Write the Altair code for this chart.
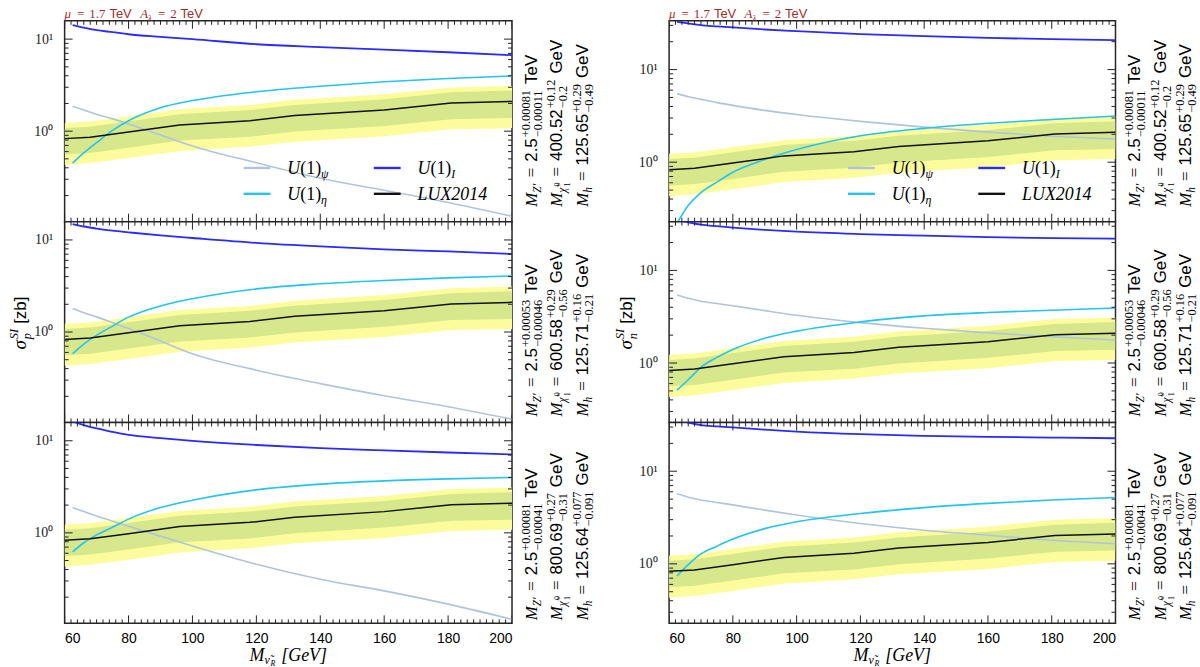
import altair as alt
import pandas as pd

# ------------------------------------------------------------------ data
curve_x = [62.5, 66, 70, 75, 80, 90, 100, 120, 140, 160, 180, 200]

# sigma_p (left column), one set per M_chi panel
p_psi_400 = [1.86, 1.70, 1.53, 1.36, 1.20, 0.91, 0.69, 0.454, 0.308, 0.228, 0.168, 0.119]
p_eta_400 = [0.45, 0.58, 0.75, 1.02, 1.30, 1.80, 2.15, 2.68, 3.08, 3.44, 3.73, 3.98]
p_I_400 = [14.2, 13.3, 12.5, 11.9, 11.3, 10.6, 10.0, 8.8, 8.2, 7.7, 7.2, 6.7]

p_psi_600 = [1.80, 1.62, 1.46, 1.26, 1.09, 0.80, 0.58, 0.385, 0.275, 0.203, 0.154, 0.113]
p_eta_600 = [0.58, 0.74, 0.92, 1.16, 1.45, 1.92, 2.30, 2.94, 3.34, 3.63, 3.87, 4.07]
p_I_600 = [14.9, 14.0, 13.3, 12.6, 12.1, 11.2, 10.5, 9.3, 8.5, 7.9, 7.5, 7.05]

p_psi_800 = [1.88, 1.70, 1.52, 1.34, 1.18, 0.92, 0.72, 0.456, 0.313, 0.234, 0.168, 0.115]
p_eta_800 = [0.62, 0.78, 0.95, 1.15, 1.41, 1.88, 2.26, 2.93, 3.38, 3.67, 3.86, 3.99]
p_I_800 = [16.2, 14.8, 13.6, 12.5, 11.6, 10.7, 10.0, 9.0, 8.3, 7.85, 7.46, 7.1]

# sigma_n (right column)
n_psi_400 = [5.5, 5.1, 4.77, 4.4, 4.11, 3.63, 3.28, 2.76, 2.39, 2.11, 1.91, 1.78]
n_eta_400 = [0.22, 0.34, 0.47, 0.61, 0.78, 1.07, 1.37, 1.93, 2.32, 2.63, 2.89, 3.15]
n_I_400 = [32.8, 31.5, 30.2, 29.3, 28.5, 27.1, 26.0, 24.2, 23.0, 22.0, 21.3, 20.8]

n_psi_600 = [5.43, 5.0, 4.65, 4.4, 4.15, 3.68, 3.28, 2.73, 2.37, 2.12, 1.92, 1.77]
n_eta_600 = [0.51, 0.66, 0.90, 1.15, 1.40, 1.85, 2.21, 2.78, 3.23, 3.51, 3.72, 3.92]
n_I_600 = [35.0, 33.0, 31.2, 30.0, 29.0, 27.4, 26.2, 24.7, 23.7, 22.9, 22.3, 22.0]

n_psi_800 = [5.7, 5.25, 4.9, 4.6, 4.33, 3.8, 3.37, 2.73, 2.31, 2.04, 1.80, 1.65]
n_eta_800 = [0.74, 0.98, 1.28, 1.55, 1.85, 2.40, 2.85, 3.50, 4.05, 4.50, 4.90, 5.20]
n_I_800 = [36.0, 33.5, 31.5, 30.5, 29.7, 28.1, 26.8, 25.1, 24.1, 23.5, 23.1, 22.7]

# LUX2014 limit with 1 sigma / 2 sigma bands
lux_x = [60, 68, 80, 96, 118, 132, 160, 181, 200]
lux_lim = [0.83, 0.86, 0.98, 1.17, 1.30, 1.48, 1.70, 2.02, 2.10]
lux_1s_hi = [1.08, 1.12, 1.28, 1.53, 1.70, 1.93, 2.22, 2.64, 2.77]
lux_1s_lo = [0.56, 0.58, 0.66, 0.79, 0.87, 0.99, 1.14, 1.35, 1.39]
lux_2s_hi = [1.23, 1.27, 1.45, 1.73, 1.92, 2.19, 2.52, 2.99, 3.10]
lux_2s_lo = [0.43, 0.45, 0.51, 0.61, 0.68, 0.77, 0.88, 1.05, 1.08]

# annotation values per row: (M_Z' , M_chi , M_h) each (value, +err, -err)
annot_rows = [
    [("2.5", "+0.00081", "\u22120.00011"), ("400.52", "+0.12", "\u22120.2"), ("125.65", "+0.29", "\u22120.49")],
    [("2.5", "+0.00053", "\u22120.00046"), ("600.58", "+0.29", "\u22120.56"), ("125.71", "+0.16", "\u22120.21")],
    [("2.5", "+0.00081", "\u22120.00041"), ("800.69", "+0.27", "\u22120.31"), ("125.64", "+0.077", "\u22120.091")],
]

# ticks
x_major = [60, 80, 100, 120, 140, 160, 180, 200]
x_minor = [v for v in range(62, 200, 2) if v % 20 != 0]
y_major = [0.1, 1, 10]
y_minor = [0.2, 0.3, 0.4, 0.5, 0.6, 0.7, 0.8, 0.9, 2, 3, 4, 5, 6, 7, 8, 9, 20, 30, 40]
y_label_vals = [1, 10]

# ------------------------------------------------------------------ style
SANS = "Liberation Sans"
SERIF = "Liberation Serif"
C_PSI = "#b0c4de"
C_ETA = "#22c4f2"
C_I = "#2a2aff"
C_LUX = "#111111"
C_Y = "#fcfc9c"
C_G = "#d6e78c"
C_TITLE = "#a52a2a"

WID = {
    SANS: {".": .278, " ": .278, "T": .611, "e": .556, "V": .667, "G": .778,
           "[": .278, "]": .278, "z": .5, "b": .556},
    SERIF: {".": .25, " ": .25, "+": .564, "\u2212": .564, "=": .564, "M": .833,
            "Z": .556, "\u2032": .27, "\u03c7": .55, "h": .5, "\u03bc": .58, "A": .61,
            "\u03bb": .55, "\u03c3": .55, "p": .5, "n": .5, "S": .5, "I": .333,
            "U": .722, "(": .333, ")": .333, "\u03c8": .69, "\u03b7": .5, "L": .556,
            "X": .611, "\u03bd": .5, "R": .611, "[": .389, "]": .389, "G": .722,
            "e": .444, "V": .611, "\u0303": 0.0},
}


def tw(s, fam, size):
    tab = WID[fam]
    default = .556 if fam == SANS else .5
    return sum(tab.get(ch, default) for ch in s) * size


ONE = pd.DataFrame({"k": [0]})


def tlayer(txt, fam, size, style, x, y, angle, color):
    return alt.Chart(ONE).mark_text(
        text=txt, font=fam, fontSize=size, fontStyle=style, color=color,
        align="left", baseline="alphabetic", angle=angle,
    ).encode(x=alt.value(x), y=alt.value(y))


def piece_len(p):
    if p[0] == "g":
        return p[1]
    if p[0] == "s":
        return max(tw(p[1], p[3], p[4]), tw(p[2], p[3], p[4]))
    return tw(p[1], p[2], p[3])


def rich(pieces, x0, y0, vertical=False, color="black", center=False):
    c = -sum(piece_len(p) for p in pieces) / 2 if center else 0.0
    out = []

    def place(txt, fam, size, style, shift, c):
        if vertical:
            out.append(tlayer(txt, fam, size, style, x0 + shift, y0 - c, 270, color))
        else:
            out.append(tlayer(txt, fam, size, style, x0 + c, y0 + shift, 0, color))

    for p in pieces:
        if p[0] == "s":
            _, sup, sub, fam, size, style, sh_up, sh_dn = p
            place(sup, fam, size, style, sh_up, c)
            place(sub, fam, size, style, sh_dn, c)
        elif p[0] == "t":
            _, txt, fam, size, style, sh = p
            place(txt, fam, size, style, sh, c)
        c += piece_len(p)
    return out


def annot_line(kind, val, up, dn):
    if kind == 0:
        head = [("t", "M", SERIF, 17, "italic", 0), ("t", "Z\u2032", SERIF, 11.5, "italic", 4)]
        unit = "TeV"
    elif kind == 1:
        head = [("t", "M", SERIF, 17, "italic", 0), ("t", "\u03c7\u0303", SERIF, 11.5, "italic", 4),
                ("s", "0", "1", SERIF, 8, "normal", -2, 8)]
        unit = "GeV"
    else:
        head = [("t", "M", SERIF, 17, "italic", 0), ("t", "h", SERIF, 11.5, "italic", 4)]
        unit = "GeV"
    return head + [
        ("g", 6), ("t", "=", SERIF, 17, "normal", 0), ("g", 6),
        ("t", val, SANS, 17, "normal", 0), ("g", 1),
        ("s", up, dn, SERIF, 12.5, "normal", -7, 5),
        ("g", 6), ("t", unit, SANS, 17, "normal", 0),
    ]


# ------------------------------------------------------------------ panels
curve_sets = {
    (0, 0): (p_psi_400, p_eta_400, p_I_400),
    (0, 1): (p_psi_600, p_eta_600, p_I_600),
    (0, 2): (p_psi_800, p_eta_800, p_I_800),
    (1, 0): (n_psi_400, n_eta_400, n_I_400),
    (1, 1): (n_psi_600, n_eta_600, n_I_600),
    (1, 2): (n_psi_800, n_eta_800, n_I_800),
}
y_domains = {0: [0.104, 15.8], 1: [0.228, 33.6]}
annot_start = [187, 196, 199]


def panel(col, row):
    W = 450 if col == 0 else 449
    H = 202
    xs = alt.Scale(domain=[60, 200], nice=False, zero=False)
    ys = alt.Scale(type="log", domain=y_domains[col], nice=False)
    if row == 2:
        xaxis = alt.Axis(values=x_major, labelFont=SANS, labelFontSize=14, labelColor="black",
                         ticks=False, domain=False, grid=False, title=None, labelPadding=8)
    else:
        xaxis = None
    yaxis = alt.Axis(values=y_label_vals, labelExpr="datum.value == 1 ? '10\u2070' : '10\u00b9'",
                     labelFont=SERIF, labelFontSize=14, labelColor="#222", ticks=False,
                     domain=False, grid=False, title=None, labelPadding=12)

    def X(f):
        return alt.X(f, scale=xs, axis=xaxis)

    def Y(f):
        return alt.Y(f, scale=ys, axis=yaxis)

    psi, eta, ii = curve_sets[(col, row)]
    cdf = pd.DataFrame({"x": curve_x, "psi": psi, "eta": eta, "I": ii})
    bdf = pd.DataFrame({"x": lux_x, "lux": lux_lim, "h1": lux_1s_hi, "l1": lux_1s_lo,
                        "h2": lux_2s_hi, "l2": lux_2s_lo})

    layers = []
    layers.append(alt.Chart(bdf).mark_area(color=C_Y, clip=True).encode(
        x=X("x:Q"), y=Y("l2:Q"), y2="h2:Q"))
    layers.append(alt.Chart(bdf).mark_area(color=C_G, clip=True).encode(
        x=X("x:Q"), y=Y("l1:Q"), y2="h1:Q"))
    for fld, colr, sw in (("psi", C_PSI, 1.6), ("eta", C_ETA, 1.6), ("I", C_I, 1.8)):
        layers.append(alt.Chart(cdf).mark_line(color=colr, strokeWidth=sw, clip=True,
                                               interpolate="monotone").encode(
            x=X("x:Q"), y=Y(f"{fld}:Q")))
    layers.append(alt.Chart(bdf).mark_line(color=C_LUX, strokeWidth=1.5, clip=True).encode(
        x=X("x:Q"), y=Y("lux:Q")))

    # inward ticks on all four sides
    xmaj = pd.DataFrame({"x": x_major})
    xmin = pd.DataFrame({"x": x_minor})
    ymaj = pd.DataFrame({"l2": y_major})
    ymin = pd.DataFrame({"l2": y_minor})
    for df, ln in ((xmaj, 8), (xmin, 4)):
        for y_a, y_b in ((H, H - ln), (0, ln)):
            layers.append(alt.Chart(df).mark_rule(color="#222", strokeWidth=1, clip=True).encode(
                x=X("x:Q"), y=alt.value(y_a), y2=alt.value(y_b)))
    for df, ln in ((ymaj, 8), (ymin, 4)):
        for x_a, x_b in ((0, ln), (W, W - ln)):
            layers.append(alt.Chart(df).mark_rule(color="#222", strokeWidth=1, clip=True).encode(
                y=Y("l2:Q"), x=alt.value(x_a), x2=alt.value(x_b)))

    # right-hand annotations (start at the bottom, read upwards)
    for k, (val, up, dn) in enumerate(annot_rows[row]):
        layers += rich(annot_line(k, val, up, dn), W + [25, 50.5, 76][k],
                       annot_start[row], vertical=True)

    if row == 0:
        # title
        s = 13
        layers += rich([
            ("t", "\u03bc", SERIF, s, "italic", 0), ("g", 5), ("t", "=", SERIF, s, "normal", 0),
            ("g", 5), ("t", "1.7", SERIF, s, "normal", 0), ("g", 4),
            ("t", "TeV", SANS, s, "normal", 0), ("g", 7),
            ("t", "A", SERIF, s, "italic", 0), ("t", "\u03bb", SERIF, 9, "italic", 3),
            ("g", 5), ("t", "=", SERIF, s, "normal", 0), ("g", 5),
            ("t", "2", SERIF, s, "normal", 0), ("g", 4), ("t", "TeV", SANS, s, "normal", 0),
        ], 0, -2.5, color=C_TITLE)
        # legend
        items = [("\u03c8", C_PSI, 180, 148), ("I", C_I, 311, 148),
                 ("\u03b7", C_ETA, 180, 174), (None, C_LUX, 311, 174)]
        for sub, colr, lx, ly in items:
            layers.append(alt.Chart(ONE).mark_rule(color=colr, strokeWidth=2.4).encode(
                x=alt.value(lx), x2=alt.value(lx + 27), y=alt.value(ly)))
            if sub is None:
                pcs = [("t", "LUX2014", SERIF, 18, "italic", 0)]
            else:
                pcs = [("t", "U", SERIF, 18, "italic", 0), ("t", "(1)", SERIF, 18, "normal", 0),
                       ("t", sub, SERIF, 12, "italic", 4)]
            layers += rich(pcs, lx + 44, ly + 6)
    if row == 1:
        sub = "p" if col == 0 else "n"
        layers += rich([
            ("t", "\u03c3", SERIF, 19, "italic", 0),
            ("s", "SI", sub, SERIF, 12.5, "italic", -8, 5),
            ("g", 5),
            ("t", "[zb]", SANS, 17, "normal", 0),
        ], -39 if col == 0 else -37, H / 2 + 1, vertical=True, center=True)
    if row == 2:
        layers += rich([
            ("t", "M", SERIF, 18, "italic", 0),
            ("t", "\u03bd\u0303", SERIF, 12, "italic", 3),
            ("t", "R", SERIF, 8, "italic", 5),
            ("g", 6),
            ("t", "[GeV]", SERIF, 18, "italic", 0),
        ], W / 2, H + 37.5, center=True)
    if row == 0 and col == 0:
        # invisible anchor fixing the page origin
        layers.append(alt.Chart(ONE).mark_rule(opacity=0).encode(
            x=alt.value(-64), x2=alt.value(-63), y=alt.value(-18), y2=alt.value(-18)))

    return alt.layer(*layers).properties(width=W, height=H)


panels = [panel(c, r) for r in range(3) for c in range(2)]
chart = alt.concat(*panels, columns=2, spacing={"row": 0, "column": 158}, bounds="flush").properties(
    padding=0, background="white"
).configure_view(stroke="#262626", strokeWidth=1.5, fill="white")

chart.save("out.html", embed_options={"renderer": "svg", "actions": False})
